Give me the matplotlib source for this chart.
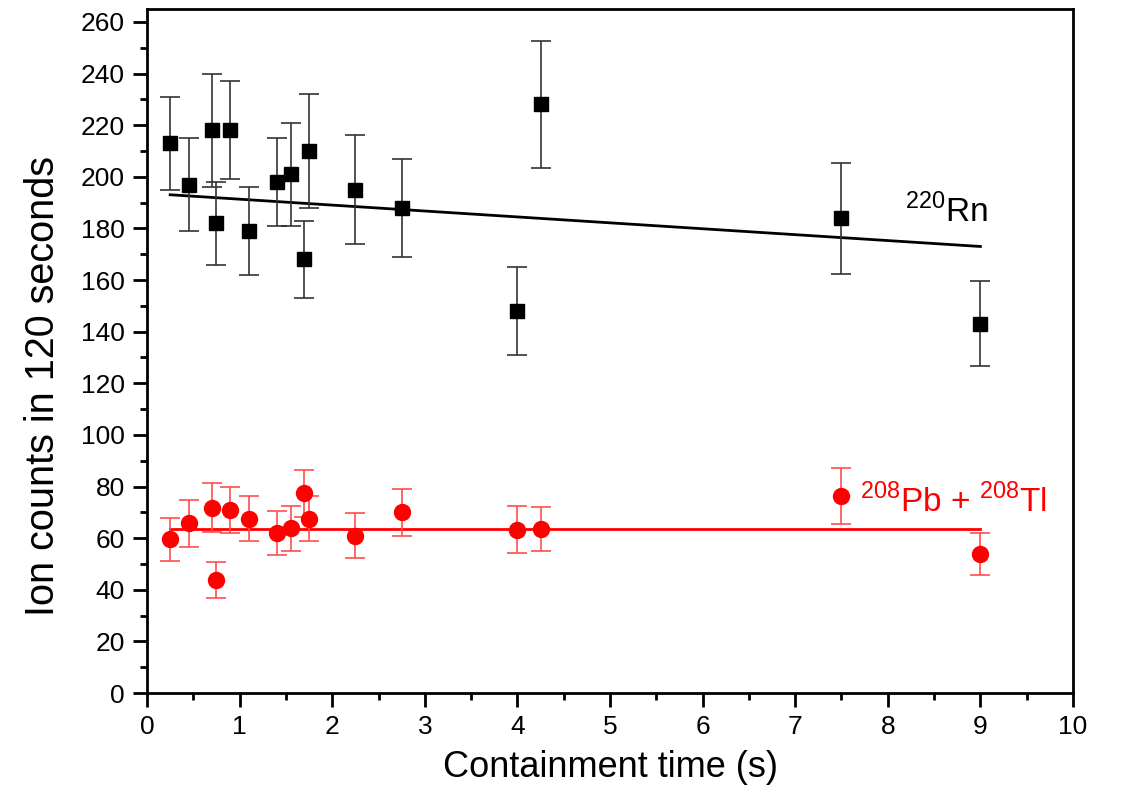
import numpy as np
import matplotlib
matplotlib.use("Agg")
import matplotlib.pyplot as plt
from matplotlib.ticker import MultipleLocator

plt.rcParams['font.family'] = ['Liberation Sans', 'DejaVu Sans']
plt.rcParams['mathtext.fontset'] = 'custom'
plt.rcParams['mathtext.rm'] = 'Liberation Sans'

# Rn-220 (black squares)
rn_t = [0.25, 0.45, 0.70, 0.75, 0.90, 1.10, 1.40, 1.55, 1.70, 1.75, 2.25, 2.75, 4.00, 4.25, 7.50, 9.00]
rn_counts = [213, 197, 218, 182, 218, 179, 198, 201, 168, 210, 195, 188, 148, 228, 184, 143]
rn_err = [18, 18, 22, 16, 19, 17, 17, 20, 15, 22, 21, 19, 17, 24.5, 21.5, 16.5]

# Pb-208 + Tl-208 (red circles)
pb_t = [0.25, 0.45, 0.70, 0.75, 0.90, 1.10, 1.40, 1.55, 1.70, 1.75, 2.25, 2.75, 4.00, 4.25, 7.50, 9.00]
pb_counts = [59.5, 65.7, 71.8, 43.8, 70.8, 67.6, 62, 63.8, 77.3, 67.6, 61, 70, 63.2, 63.6, 76.3, 53.8]
pb_err = [8.2, 9, 9.4, 6.9, 9, 8.6, 8.5, 8.7, 9, 8.8, 8.8, 9, 9.1, 8.4, 10.7, 8]

# linear fits (intercept, slope) and fit range
rn_fit = (193.6, -2.29)
pb_fit = (63.7, 0.0)
fit_range = [0.25, 9.0]

fig = plt.figure(figsize=(11.31, 7.95), dpi=100)
ax = fig.add_axes([0.130, 0.1283, 0.8187, 0.8604])

# black data
ax.errorbar(rn_t, rn_counts, yerr=rn_err, fmt='s', color='black', ms=10,
            ecolor='#333333', elinewidth=1.2, capsize=7, capthick=1.2, zorder=3)
xf = np.array(fit_range)
ax.plot(xf, rn_fit[0] + rn_fit[1] * xf, color='black', lw=2, zorder=2)

# red data
ax.errorbar(pb_t, pb_counts, yerr=pb_err, fmt='o', color='red', ms=11.5,
            ecolor='#ff4d4d', elinewidth=1.2, capsize=7, capthick=1.2, zorder=3)
ax.plot(xf, pb_fit[0] + pb_fit[1] * xf, color='red', lw=2, zorder=2)

ax.text(8.19, 182.3, r'$^{220}$Rn', fontsize=24, color='black', va='baseline')
ax.text(7.70, 69.9, r'$^{208}$Pb + $^{208}$Tl', fontsize=24, color='red', va='baseline')

ax.set_xlim(0, 10)
ax.set_ylim(0, 265)
ax.xaxis.set_major_locator(MultipleLocator(1))
ax.xaxis.set_minor_locator(MultipleLocator(0.5))
ax.yaxis.set_major_locator(MultipleLocator(20))
ax.yaxis.set_minor_locator(MultipleLocator(10))
ax.tick_params(which='major', direction='out', length=10, width=2, labelsize=19, pad=6)
ax.tick_params(which='minor', direction='out', length=5, width=2)
for s in ax.spines.values():
    s.set_linewidth(2)

ax.set_xlabel('Containment time (s)', fontsize=26, labelpad=8)
ax.set_ylabel('Ion counts in 120 seconds', fontsize=28.5)
ax.yaxis.set_label_coords(-0.092, 0.449)

fig.savefig('out.png', dpi=100)
